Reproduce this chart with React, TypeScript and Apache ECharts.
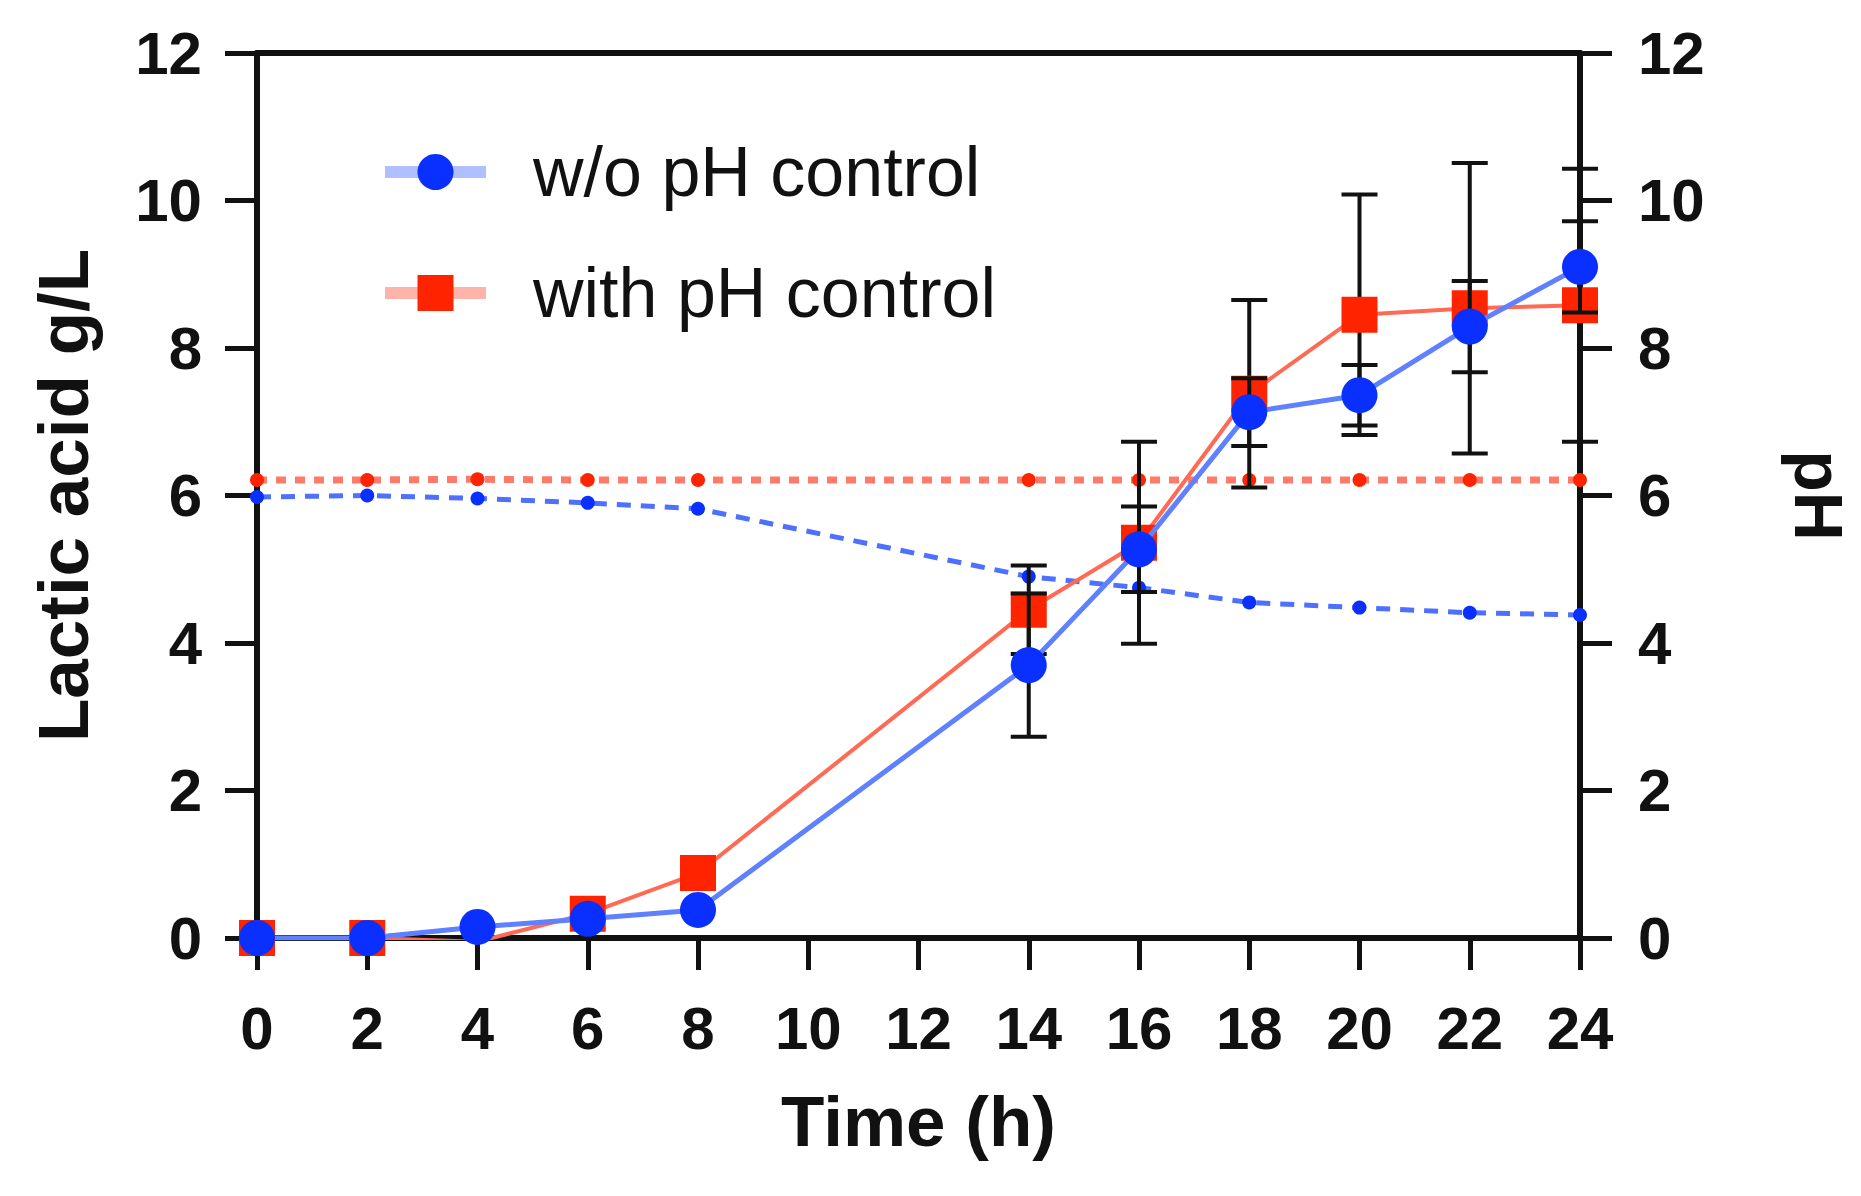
import React, { useEffect, useRef } from "react";
import * as echarts from "echarts";

const timeH = [0, 2, 4, 6, 8, 14, 16, 18, 20, 22, 24];
const lacticWithout = [0, 0, 0.15, 0.26, 0.38, 3.7, 5.27, 7.13, 7.36, 8.29, 9.1];
const lacticWithoutErr = [0, 0, 0, 0, 0, 0.97, 0.58, 0.46, 0.41, 0.62, 0.62];
const lacticWith = [0, 0, -0.05, 0.33, 0.88, 4.45, 5.36, 7.38, 8.45, 8.54, 8.58];
const lacticWithErr = [0, 0, 0, 0, 0, 0.6, 1.37, 1.27, 1.63, 1.97, 1.85];
const phWithout = [5.98, 6.0, 5.96, 5.9, 5.82, 4.9, 4.75, 4.55, 4.48, 4.41, 4.38];
const phWith = [6.21, 6.21, 6.22, 6.21, 6.21, 6.21, 6.21, 6.21, 6.21, 6.21, 6.21];
const xTicks = [0, 24, 2];
const yTicks = [0, 12, 2];

const BLUE = "#0a30ff";
const BLUE_LINE = "#5f80ff";
const RED = "#ff2400";
const RED_LINE = "#ff6a55";
const FONT = "'Liberation Sans', Arial, Helvetica, sans-serif";

const pairs = (ys: number[]) => timeH.map((t, i) => [t, ys[i]]);
const errData = (ys: number[], es: number[]) =>
  timeH.map((t, i) => [t, ys[i] - es[i], ys[i] + es[i]]);

function errRender(_params: any, api: any) {
  const x = api.value(0);
  const lo = api.value(1);
  const hi = api.value(2);
  if (!(hi - lo > 0)) return null;
  const top = api.coord([x, hi]);
  const bot = api.coord([x, lo]);
  const hw = 18;
  const style = { stroke: "#111", lineWidth: 4 };
  return {
    type: "group",
    children: [
      { type: "line", shape: { x1: top[0], y1: top[1], x2: bot[0], y2: bot[1] }, style },
      { type: "line", shape: { x1: top[0] - hw, y1: top[1], x2: top[0] + hw, y2: top[1] }, style },
      { type: "line", shape: { x1: bot[0] - hw, y1: bot[1], x2: bot[0] + hw, y2: bot[1] }, style },
    ],
  };
}

export default function App() {
  const ref = useRef<HTMLDivElement>(null);
  useEffect(() => {
    if (!ref.current) return;
    const chart = echarts.init(ref.current, null, { renderer: "svg" });
    const axisLabel = {
      fontSize: 60,
      fontWeight: "bold",
      fontFamily: FONT,
      color: "#111",
    };
    const axisLine = { show: true, onZero: false, lineStyle: { color: "#111", width: 6 } };
    const axisTick = { show: true, length: 32, lineStyle: { color: "#111", width: 5 } };
    const titleStyle = { fontSize: 71, fontWeight: "bold", fontFamily: FONT, color: "#111" };
    chart.setOption({
      animation: false,
      backgroundColor: "#ffffff",
      grid: { left: 257, right: 275, top: 53, bottom: 258, containLabel: false },
      legend: {
        data: ["w/o pH control", "with pH control"],
        orient: "vertical",
        left: 374,
        top: 132,
        itemWidth: 101,
        itemHeight: 45,
        itemGap: 51,
        lineStyle: { width: 12, opacity: 0.5 },
        textStyle: {
          fontSize: 70,
          fontFamily: FONT,
          color: "#111",
          lineHeight: 45,
          padding: [0, 0, 0, 42],
        },
      },
      xAxis: [
        {
          type: "value",
          position: "bottom",
          min: xTicks[0],
          max: xTicks[1],
          interval: xTicks[2],
          name: "Time (h)",
          nameLocation: "middle",
          nameGap: 148,
          nameTextStyle: titleStyle,
          axisLine,
          axisTick,
          axisLabel: { ...axisLabel, margin: 60 },
          splitLine: { show: false },
        },
        {
          type: "value",
          position: "top",
          min: xTicks[0],
          max: xTicks[1],
          interval: xTicks[2],
          axisLine,
          axisTick: { show: false },
          axisLabel: { show: false },
          splitLine: { show: false },
        },
      ],
      yAxis: [
        {
          type: "value",
          position: "left",
          min: yTicks[0],
          max: yTicks[1],
          interval: yTicks[2],
          name: "Lactic acid g/L",
          nameLocation: "middle",
          nameGap: 158,
          nameTextStyle: titleStyle,
          axisLine,
          axisTick,
          axisLabel: { ...axisLabel, margin: 55 },
          splitLine: { show: false },
        },
        {
          type: "value",
          position: "right",
          min: yTicks[0],
          max: yTicks[1],
          interval: yTicks[2],
          name: "pH",
          nameLocation: "middle",
          nameRotate: -90,
          nameGap: 205,
          nameTextStyle: { ...titleStyle, fontSize: 68 },
          axisLine,
          axisTick,
          axisLabel: { ...axisLabel, margin: 58 },
          splitLine: { show: false },
        },
      ],
      series: [
        {
          name: "pH with",
          type: "line",
          yAxisIndex: 1,
          data: pairs(phWith),
          symbol: "circle",
          symbolSize: 14,
          itemStyle: { color: RED },
          lineStyle: { color: "#ff7a68", width: 7, type: [10, 9] },
          z: 2,
        },
        {
          name: "pH w/o",
          type: "line",
          yAxisIndex: 1,
          data: pairs(phWithout),
          symbol: "circle",
          symbolSize: 14,
          itemStyle: { color: BLUE },
          lineStyle: { color: "#4d70ff", width: 5, type: [14, 10] },
          z: 2,
        },
        {
          name: "err with",
          type: "custom",
          renderItem: errRender,
          data: errData(lacticWith, lacticWithErr),
          encode: { x: 0, y: [1, 2] },
          z: 3,
        },
        {
          name: "with pH control",
          type: "line",
          data: pairs(lacticWith),
          symbol: "rect",
          symbolSize: 36,
          itemStyle: { color: RED },
          lineStyle: { color: RED_LINE, width: 4 },
          z: 4,
        },
        {
          name: "err w/o",
          type: "custom",
          renderItem: errRender,
          data: errData(lacticWithout, lacticWithoutErr),
          encode: { x: 0, y: [1, 2] },
          z: 5,
        },
        {
          name: "w/o pH control",
          type: "line",
          data: pairs(lacticWithout),
          symbol: "circle",
          symbolSize: 36,
          itemStyle: { color: BLUE },
          lineStyle: { color: BLUE_LINE, width: 5 },
          z: 6,
        },
      ],
    });
    return () => chart.dispose();
  }, []);
  return (
    <div
      ref={ref}
      style={{ position: "absolute", left: 0, top: 0, width: 1861, height: 1196, background: "#fff" }}
    />
  );
}
